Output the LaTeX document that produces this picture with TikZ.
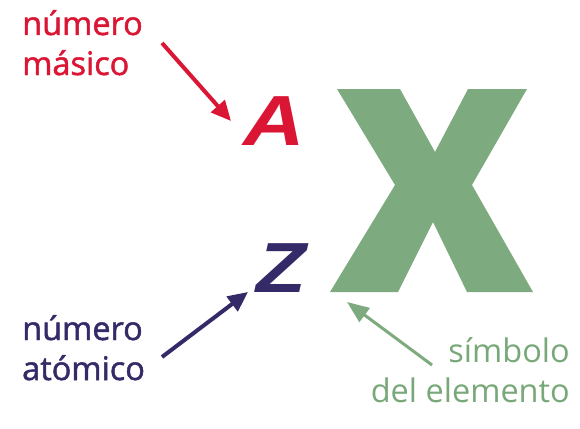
\documentclass[tikz,border=0pt]{standalone}
\usepackage{fontspec}
\usepackage{graphicx}
\setmainfont{Open Sans}
\newfontfamily\heavyfont[FakeBold=1.5]{Open Sans}
\newfontfamily\letterfont{Liberation Sans}
\usetikzlibrary{arrows.meta}
\definecolor{cRed}{RGB}{218,22,52}
\definecolor{cBlue}{RGB}{52,42,104}
\definecolor{cGreen}{RGB}{126,170,128}
\definecolor{cGreenTxt}{RGB}{120,168,120}
\tikzset{
  lbl/.style={inner sep=0pt, font=\heavyfont\fontsize{32.5}{40}\selectfont},
  lbllight/.style={inner sep=0pt, font=\fontsize{32.5}{40}\selectfont},
  bigletter/.style={inner sep=0pt, font=\letterfont\bfseries\itshape\fontsize{71}{71}\selectfont},
  ptr/.style={line width=4pt, -{Triangle[length=20pt,width=18pt]}},
  ptrthin/.style={line width=3pt, -{Triangle[length=22pt,width=17pt]}},
}
\begin{document}
\begin{tikzpicture}[x=1pt,y=-1pt]
\useasboundingbox (0,0) rectangle (580,428);
% big X
\fill[cGreen] (337,89) -- (400,89) -- (435,152) -- (468,89) -- (527,89)
  -- (472,185) -- (533,292) -- (467,292) -- (433,222) -- (398,292)
  -- (330,292) -- (395,185) -- cycle;
\node[bigletter, text=cRed, anchor=base west] (A) at (243,145) {\scalebox{1.2}[1]{A}};
\node[bigletter, text=cBlue, anchor=base west] (Z) at (256,292) {\scalebox{1.15}[1]{Z}};
\node[lbl, text=cRed, anchor=base west, align=left] (masico) at (22,75) {número\\másico};
\node[lbl, text=cBlue, anchor=base west, align=left] (atomico) at (22,380) {número\\atómico};
\node[lbllight, text=cGreenTxt, anchor=base east, align=right] (simbolo) at (570,402) {símbolo\\del elemento};
\coordinate (rt) at (162,43);
\coordinate (rh) at (231,121);
\coordinate (bt) at (162,357);
\coordinate (bh) at (248,292);
\coordinate (gt) at (432,365);
\coordinate (gh) at (347,302);
\draw[ptr, cRed] (rt) -- (rh);
\draw[ptr, cBlue] (bt) -- (bh);
\draw[ptrthin, cGreen] (gt) -- (gh);
\end{tikzpicture}
\end{document}
